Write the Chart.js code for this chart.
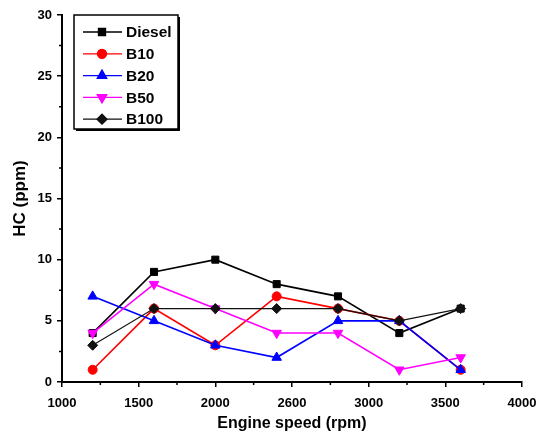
<!DOCTYPE html>
<html>
<head>
<meta charset="utf-8">
<script src="https://cdn.jsdelivr.net/npm/chart.js@4"></script>
<style>
  html, body { margin: 0; padding: 0; background: #fff; }
  #wrap { width: 538px; height: 437px; }
</style>
</head>
<body>
<div id="wrap"><canvas id="hcChart" width="538" height="437"></canvas></div>
<script>
// engine speeds (rpm)
const speeds = [1200, 1600, 2000, 2400, 2800, 3200, 3600];

// HC (ppm) per fuel
const diesel = [4, 9, 10, 8, 7, 4, 6];
const b10 = [1, 6, 3, 7, 6, 5, 1];
const b20 = [7, 5, 3, 2, 5, 5, 1];
const b50 = [4, 8, 6, 4, 4, 1, 2];
const b100 = [3, 6, 6, 6, 6, 5, 6];

const seriesNames = ['Diesel', 'B10', 'B20', 'B50', 'B100'];
const xTickLabels = ['1000', '1500', '2000', '2600', '3000', '3500', '4000'];
const yTickLabels = ['0', '5', '10', '15', '20', '25', '30'];

const FONT = 'Liberation Sans, Arial, sans-serif';

function toPoints(values) {
    return values.map((v, i) => ({ x: speeds[i], y: v }));
}

// B100 drawn on top, Diesel at the bottom
const styles = [
    { color: '#000000', point: 'rect', rotation: 0, radius: 5, order: 4 },
    { color: '#ff0000', point: 'circle', rotation: 0, radius: 4.5, order: 3 },
    { color: '#0000ff', point: 'triangle', rotation: 0, radius: 5.5, order: 2 },
    { color: '#ff00ff', point: 'triangle', rotation: 180, radius: 5.5, order: 1 },
    { color: '#111111', point: 'rectRot', rotation: 0, radius: 5, order: 0 }
];

const datasets = [diesel, b10, b20, b50, b100].map((vals, i) => ({
    label: seriesNames[i],
    data: toPoints(vals),
    order: styles[i].order,
    borderColor: styles[i].color,
    backgroundColor: styles[i].color,
    borderWidth: i === 4 ? 1.2 : 1.6,
    pointStyle: styles[i].point,
    pointRotation: styles[i].rotation,
    pointRadius: styles[i].radius,
    pointBorderWidth: 1,
    tension: 0
}));

// minor ticks between the labelled ones
const minorTicks = {
    id: 'minorTicks',
    afterDraw(chart) {
        const c = chart.ctx;
        const xs = chart.scales.x, ys = chart.scales.y;
        c.save();
        c.strokeStyle = '#000';
        c.lineWidth = 1.5;
        c.beginPath();
        for (let v = 1250; v < 4000; v += 500) {
            const px = xs.getPixelForValue(v);
            c.moveTo(px, ys.bottom);
            c.lineTo(px, ys.bottom + 3);
        }
        for (let v = 2.5; v < 30; v += 5) {
            const py = ys.getPixelForValue(v);
            c.moveTo(xs.left, py);
            c.lineTo(xs.left - 3, py);
        }
        c.stroke();
        c.restore();
    }
};

// legend box in the top left corner of the plot
const boxLegend = {
    id: 'boxLegend',
    afterDraw(chart) {
        const c = chart.ctx;
        const left = chart.chartArea.left + 12;
        const top = 15;
        const w = 104, h = 114;
        c.save();
        c.fillStyle = '#fff';
        c.fillRect(left, top, w, h);
        c.fillStyle = '#000';
        c.fillRect(left + 2, top + h, w, 2);
        c.fillRect(left + w, top + 2, 2, h);
        c.strokeStyle = '#000';
        c.lineWidth = 1.5;
        c.strokeRect(left, top, w, h);
        chart.data.datasets.forEach((ds, i) => {
            const y = top + 17 + i * 21.8;
            c.strokeStyle = ds.borderColor;
            c.lineWidth = 1.3;
            c.beginPath();
            c.moveTo(left + 9, y);
            c.lineTo(left + 48, y);
            c.stroke();
            Chart.helpers.drawPoint(c, {
                pointStyle: ds.pointStyle,
                rotation: ds.pointRotation,
                radius: ds.pointRadius,
                borderWidth: 1
            }, left + 28, y);
            c.fillStyle = ds.backgroundColor;
            c.fill();
            c.fillStyle = '#000';
            c.font = 'bold 15.5px ' + FONT;
            c.textBaseline = 'middle';
            c.textAlign = 'left';
            c.fillText(ds.label, left + 52, y + 1);
        });
        c.restore();
    }
};

new Chart(document.getElementById('hcChart'), {
    type: 'line',
    data: { datasets: datasets },
    options: {
        responsive: false,
        animation: false,
        layout: { padding: { top: 15, right: 16, left: 0, bottom: 0 } },
        plugins: {
            legend: { display: false },
            tooltip: { enabled: false }
        },
        scales: {
            x: {
                type: 'linear',
                min: 1000,
                max: 4000,
                ticks: {
                    stepSize: 500,
                    color: '#000',
                    font: { family: FONT, size: 13, weight: 'bold' },
                    padding: 9,
                    maxRotation: 0,
                    callback: (v) => xTickLabels[Math.round((v - 1000) / 500)]
                },
                grid: { drawOnChartArea: false, drawTicks: true, tickLength: 5, color: '#000', lineWidth: 1.5 },
                border: { display: true, color: '#000', width: 2 },
                title: {
                    display: true,
                    text: 'Engine speed (rpm)',
                    color: '#000',
                    font: { family: FONT, size: 16, weight: 'bold' },
                    padding: { top: 2 }
                },
                afterFit: (scale) => {
                    scale.height = 55;
                    scale.paddingRight = 0;
                    scale.paddingLeft = 0;
                }
            },
            y: {
                min: 0,
                max: 30,
                ticks: {
                    stepSize: 5,
                    color: '#000',
                    font: { family: FONT, size: 13, weight: 'bold' },
                    padding: 5,
                    callback: (v) => yTickLabels[Math.round(v / 5)]
                },
                grid: { drawOnChartArea: false, drawTicks: true, tickLength: 5, color: '#000', lineWidth: 1.5 },
                border: { display: true, color: '#000', width: 2 },
                title: {
                    display: true,
                    text: 'HC (ppm)',
                    color: '#000',
                    font: { family: FONT, size: 17, weight: 'bold' },
                    padding: { top: 10, bottom: 4 }
                },
                afterFit: (scale) => { scale.width = 62; }
            }
        }
    },
    plugins: [minorTicks, boxLegend]
});
</script>
</body>
</html>
